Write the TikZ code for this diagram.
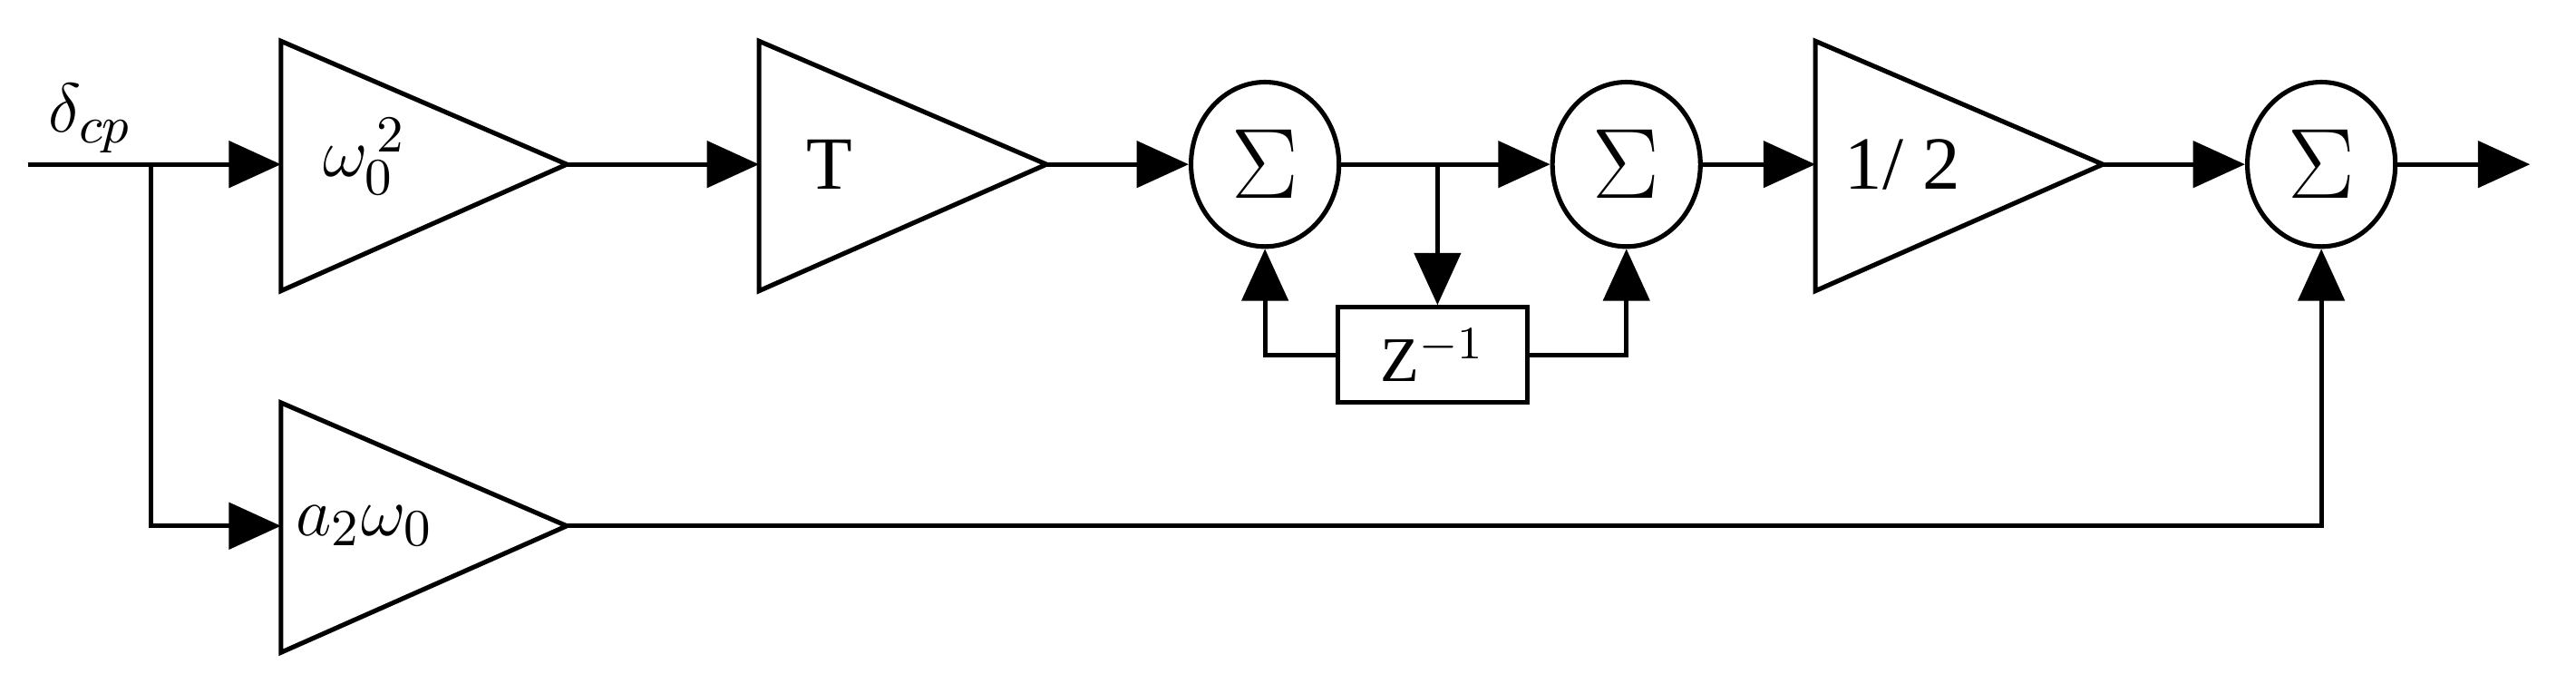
\documentclass[tikz,border=0pt]{standalone}
\usepackage{fontspec}
\setmainfont{Liberation Serif}
\usetikzlibrary{arrows.meta,shapes.geometric}
\begin{document}
\begin{tikzpicture}[x=0.01cm,y=-0.01cm,line width=0.8pt,
  arr/.style={-{Triangle[length=9pt,width=8pt]}},
  sum/.style={ellipse,draw,minimum width=0.9cm,minimum height=1cm,inner sep=0pt,font=\fontsize{17}{17}\selectfont},
  lab/.style={font=\fontsize{13}{13}\selectfont},
  tri/.style={draw,line join=miter}]
\useasboundingbox (0,0) rectangle (1568,410);
% amplifiers
\draw[tri] (171,25) -- (345,100) -- (171,177) -- cycle;
\draw[tri] (462,25) -- (637,100) -- (462,177) -- cycle;
\draw[tri] (1105,25) -- (1280,100) -- (1105,177) -- cycle;
\draw[tri] (171,245) -- (345,320) -- (171,397) -- cycle;
\coordinate (a1in) at (171,100); \coordinate (a1out) at (345,100);
\coordinate (a2in) at (462,100); \coordinate (a2out) at (637,100);
\coordinate (a3in) at (1105,100); \coordinate (a3out) at (1280,100);
\coordinate (a4in) at (171,320); \coordinate (a4out) at (345,320);
\node[lab] (g1) at (222,95) {$\omega_0^{\,2}$};
\node[lab] (g2) at (505,100) {T};
\node[lab] (g3) at (1158,100) {1/ 2};
\node[lab] (g4) at (222,320) {$a_2\omega_0$};
% sums
\node[sum] (s1) at (770,100) {$\Sigma$};
\node[sum] (s2) at (990,100) {$\Sigma$};
\node[sum] (s3) at (1413,100) {$\Sigma$};
\node[draw,minimum width=1.15cm,minimum height=0.58cm,inner sep=0pt,font=\fontsize{11}{11}\selectfont] (z) at (872,216) {Z$^{-1}$};
% input
\coordinate (in) at (17,100);
\coordinate (br) at (92,100);
\coordinate (out) at (1540,100);
\coordinate (tap) at (875,100);
\node[lab] (d) at (55,72) {$\delta_{cp}$};
\draw[arr] (in) -- (a1in);
\draw[arr] (br) |- (a4in);
\draw[arr] (a1out) -- (a2in);
\draw[arr] (a2out) -- (s1);
\draw[arr] (s1) -- (s2);
\draw[arr] (tap) -- (z.north -| tap);
\draw[arr] (z.west) -| (s1.south);
\draw[arr] (z.east) -| (s2.south);
\draw[arr] (s2) -- (a3in);
\draw[arr] (a3out) -- (s3);
\draw[arr] (s3) -- (out);
\draw[arr] (a4out) -| (s3.south);
\end{tikzpicture}
\end{document}
